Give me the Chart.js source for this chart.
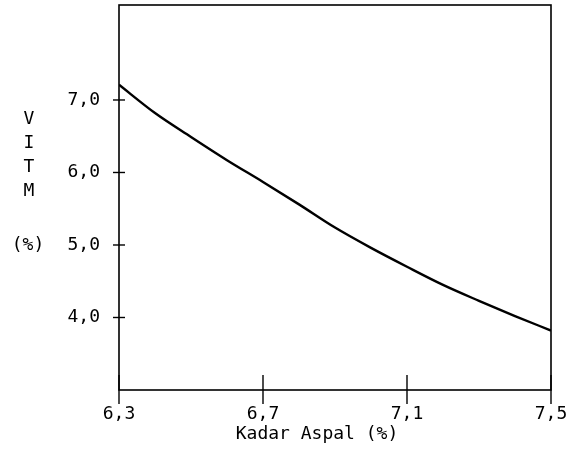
<!DOCTYPE html>
<html>
<head>
<meta charset="utf-8">
<script src="https://cdn.jsdelivr.net/npm/chart.js@4"></script>
<style>
  html, body { margin: 0; padding: 0; background: #fff; }
  #wrap { width: 585px; height: 455px; }
</style>
</head>
<body>
<div id="wrap"><canvas id="c" width="585" height="455"></canvas></div>
<script>
// ---- data ----
const kadarAspal = [6.3, 6.4, 6.5, 6.6, 6.7, 6.8, 6.9, 7.0, 7.1, 7.2, 7.3, 7.4, 7.5];
const vitm       = [7.21, 6.82, 6.49, 6.17, 5.87, 5.56, 5.24, 4.96, 4.70, 4.45, 4.23, 4.02, 3.82];
const xTicks = [6.3, 6.7, 7.1, 7.5];
const yTicks = [4.0, 5.0, 6.0, 7.0];
const xTitle = 'Kadar Aspal (%)';
const yTitleLetters = ['V', 'I', 'T', 'M'];
const yTitleUnit = '(%)';

const FONT = '"DejaVu Sans Mono", monospace';
const fmt = v => v.toFixed(1).replace('.', ',');

const frame = {
  id: 'frame',
  afterDraw(chart) {
    const ctx = chart.ctx, a = chart.chartArea;
    const xs = chart.scales.x, ys = chart.scales.y;
    ctx.save();
    ctx.strokeStyle = '#000';
    ctx.lineWidth = 1.6;
    ctx.strokeRect(a.left, a.top, a.right - a.left, a.bottom - a.top);
    ctx.lineWidth = 1.4;
    ys.ticks.forEach(t => {
      const y = ys.getPixelForValue(t.value);
      ctx.beginPath(); ctx.moveTo(a.left - 6, y); ctx.lineTo(a.left + 6, y); ctx.stroke();
    });
    xs.ticks.forEach(t => {
      const x = xs.getPixelForValue(t.value);
      ctx.beginPath(); ctx.moveTo(x, a.bottom - 15); ctx.lineTo(x, a.bottom + 14); ctx.stroke();
    });
    ctx.fillStyle = '#000';
    ctx.font = '18px ' + FONT;
    ctx.textAlign = 'center';
    ctx.textBaseline = 'middle';
    ctx.fillText(xTitle, 317, 434);
    yTitleLetters.forEach((ch, i) => ctx.fillText(ch, 29, 119 + i * 24));
    ctx.fillText(yTitleUnit, 28, 245);
    ctx.restore();
  }
};

new Chart(document.getElementById('c'), {
  type: 'line',
  data: {
    datasets: [{
      data: kadarAspal.map((x, i) => ({ x, y: vitm[i] })),
      borderColor: '#000',
      borderWidth: 2.4,
      pointRadius: 0,
      cubicInterpolationMode: 'monotone',
      fill: false
    }]
  },
  options: {
    responsive: false,
    animation: false,
    devicePixelRatio: 1,
    layout: { padding: { left: 0, right: 34, top: 5, bottom: 0 } },
    plugins: { legend: { display: false }, tooltip: { enabled: false } },
    scales: {
      x: {
        type: 'linear', min: 6.3, max: 7.5,
        afterBuildTicks: s => { s.ticks = xTicks.map(v => ({ value: v })); },
        afterFit: s => { s.height = 65; s.paddingLeft = 0; s.paddingRight = 0; },
        grid: { display: false, drawTicks: false },
        border: { display: false },
        ticks: { color: '#000', font: { family: FONT, size: 18 }, padding: 14, maxRotation: 0,
                 callback: v => fmt(v) }
      },
      y: {
        type: 'linear', min: 3.0, max: 8.31,
        afterBuildTicks: s => { s.ticks = yTicks.map(v => ({ value: v })); },
        afterFit: s => { s.width = 119; s.paddingTop = 0; s.paddingBottom = 0; },
        grid: { display: false, drawTicks: false },
        border: { display: false },
        ticks: { color: '#000', font: { family: FONT, size: 18 }, padding: 19,
                 callback: v => fmt(v) }
      }
    }
  },
  plugins: [frame]
});
</script>
</body>
</html>
